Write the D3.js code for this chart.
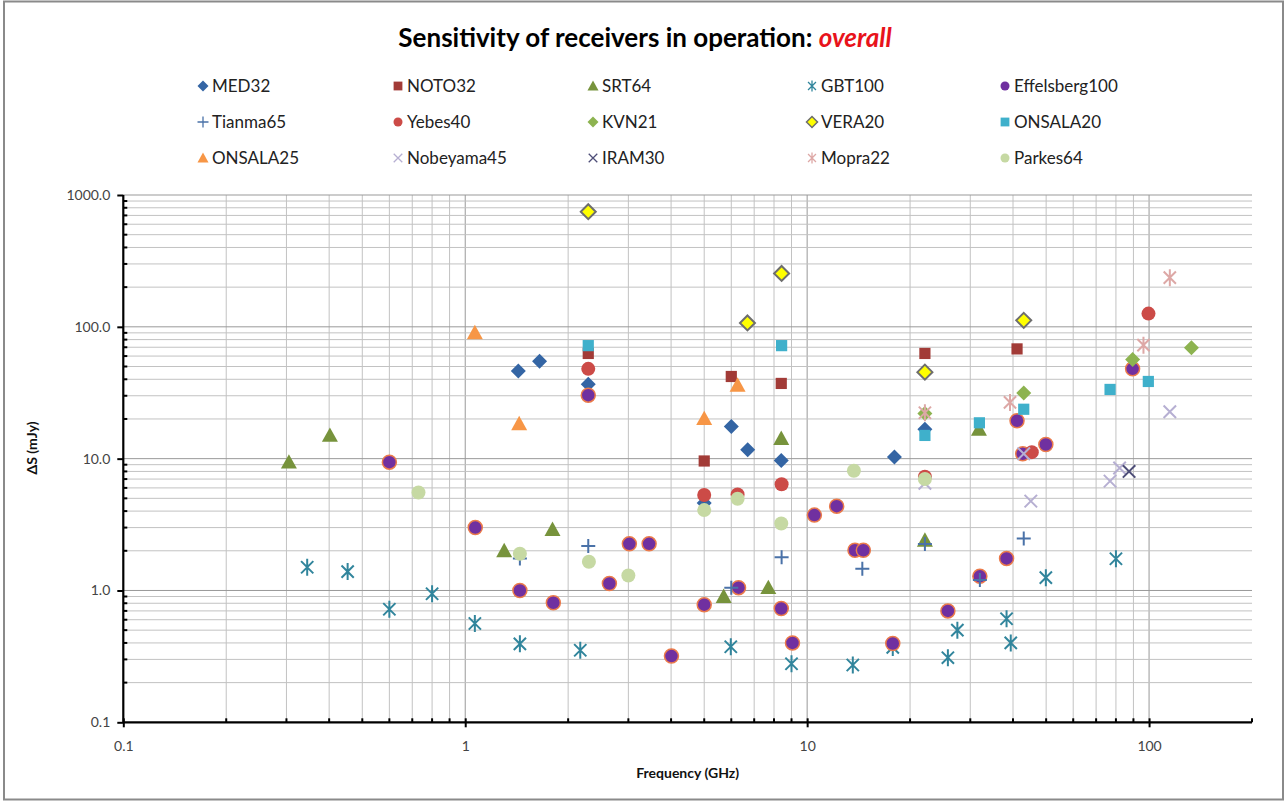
<!DOCTYPE html>
<html>
<head>
<meta charset="utf-8">
<script src="https://cdn.jsdelivr.net/npm/d3@7"></script>
<style>
  html, body { margin: 0; padding: 0; background: #fff; }
  svg { display: block; }
  text { font-family: Lato, "Open Sans", "Liberation Sans", sans-serif; }
</style>
</head>
<body>
<svg id="chart" width="1285" height="802"></svg>
<script>
// ---------------- DATA ----------------
const seriesNames = ["MED32","NOTO32","SRT64","GBT100","Effelsberg100","Tianma65","Yebes40","KVN21","VERA20","ONSALA20","ONSALA25","Nobeyama45","IRAM30","Mopra22","Parkes64"];

const MED32 = [[1.43,46.3],[1.65,54.9],[2.29,36.7],[5.0,4.6],[6.0,17.5],[6.7,11.7],[8.4,9.7],[18.0,10.3],[22.1,16.7]];
const NOTO32 = [[2.29,62.8],[5.0,9.6],[6.0,42],[8.4,37.2],[22.1,62.8],[41.1,68]];
const SRT64 = [[0.305,9.4],[0.402,15.0],[1.3,2.0],[1.8,2.9],[5.7,0.9],[7.7,1.05],[8.4,14.2],[22.1,2.4],[31.8,16.7]];
const GBT100 = [[0.345,1.5],[0.453,1.39],[0.6,0.72],[0.8,0.944],[1.067,0.562],[1.445,0.394],[2.17,0.352],[5.98,0.374],[9.0,0.278],[13.6,0.272],[17.8,0.37],[25.8,0.309],[27.5,0.5],[38.3,0.61],[39.4,0.40],[49.9,1.25],[80,1.74]];
const Effelsberg100 = [[0.6,9.4],[1.07,3.0],[1.445,1.0],[1.81,0.807],[2.29,30.3],[2.64,1.13],[3.02,2.26],[3.45,2.26],[4.01,0.318],[5.0,0.78],[6.3,1.05],[8.4,0.73],[9.06,0.4],[10.5,3.73],[12.2,4.36],[13.8,2.02],[14.6,2.02],[17.8,0.396],[25.8,0.70],[32,1.28],[38.3,1.75],[41.1,19.4],[42.7,10.9],[49.9,12.8],[89.5,48]];
const Tianma65 = [[1.445,1.75],[2.29,2.17],[6.0,1.05],[8.42,1.79],[14.5,1.46],[22.1,2.25],[32,1.2],[43,2.48]];
const Yebes40 = [[2.29,48],[5.0,5.3],[6.26,5.35],[8.42,6.4],[22.1,7.3],[45.4,11.2],[99.6,126]];
const KVN21 = [[22.1,22],[43,31.5],[89.5,56.6],[133,69.4]];
const VERA20 = [[2.29,747],[6.69,107],[8.42,254],[22.1,45.3],[43,112]];
const ONSALA20 = [[2.29,72],[8.42,72],[22.1,15.0],[31.9,18.7],[43,23.7],[76.9,33.5],[99.5,38.5]];
const ONSALA25 = [[1.067,90],[1.438,18.4],[5.0,20.1],[6.26,36]];
const Nobeyama45 = [[22.1,6.5],[43,10.9],[45.1,4.76],[76.9,6.75],[82,8.5],[115,22.7]];
const IRAM30 = [[87.4,8.0]];
const Mopra22 = [[22.1,22.3],[39.2,26.7],[96.3,72.6],[115,236]];
const Parkes64 = [[0.73,5.54],[1.445,1.9],[2.3,1.65],[3.0,1.3],[5.0,4.07],[6.26,4.96],[8.4,3.22],[13.7,8.1],[22.1,7.0]];

const seriesData = [MED32,NOTO32,SRT64,GBT100,Effelsberg100,Tianma65,Yebes40,KVN21,VERA20,ONSALA20,ONSALA25,Nobeyama45,IRAM30,Mopra22,Parkes64];

const xTickValues = [0.1, 1, 10, 100];
const yTickValues = [0.1, 1, 10, 100, 1000];

// ---------------- STYLE ----------------
const styles = {
  MED32:        {shape:"diamond", fill:"#3465A4", stroke:"none"},
  NOTO32:       {shape:"square",  fill:"#A23B37", stroke:"none"},
  SRT64:        {shape:"triangle",fill:"#77933C", stroke:"none"},
  GBT100:       {shape:"star",    fill:"none",    stroke:"#31859C"},
  Effelsberg100:{shape:"circle",  fill:"#7030A0", stroke:"#EB7B4B"},
  Tianma65:     {shape:"plus",    fill:"none",    stroke:"#4A72A8"},
  Yebes40:      {shape:"circle",  fill:"#CC4B47", stroke:"none"},
  KVN21:        {shape:"diamond", fill:"#8DB350", stroke:"none"},
  VERA20:       {shape:"diamond", fill:"#FFFF00", stroke:"#6E6E6E"},
  ONSALA20:     {shape:"square",  fill:"#3FB0CB", stroke:"none"},
  ONSALA25:     {shape:"triangle",fill:"#F79646", stroke:"none"},
  Nobeyama45:   {shape:"x",       fill:"none",    stroke:"#B6AFD2"},
  IRAM30:       {shape:"x",       fill:"none",    stroke:"#4E4E78"},
  Mopra22:      {shape:"star",    fill:"none",    stroke:"#DDA8A6"},
  Parkes64:     {shape:"circle",  fill:"#C6D9A3", stroke:"none"}
};

function markerPath(shape, s) {
  switch (shape) {
    case "diamond": return `M0,${-s}L${s},0L0,${s}L${-s},0Z`;
    case "square": { const h = s*0.8; return `M${-h},${-h}H${h}V${h}H${-h}Z`; }
    case "triangle": return `M0,${-s}L${s},${s*0.8}L${-s},${s*0.8}Z`;
    case "plus": return `M${-s},0H${s}M0,${-s}V${s}`;
    case "x": { const h = s*0.78; return `M${-h},${-h}L${h},${h}M${-h},${h}L${h},${-h}`; }
    case "star": { const h = s*0.72; return `M${-h},${-h}L${h},${h}M${-h},${h}L${h},${-h}M0,${-s}V${s}`; }
    default: return "";
  }
}
const markerSize = {diamond: 7.5, square: 7, triangle: 8, plus: 7, x: 8, star: 8.5, circle: 7};

// ---------------- LAYOUT ----------------
const svg = d3.select("#chart");
const W = 1285, H = 802;
const plot = {left: 123.3, right: 1252, top: 195, bottom: 722.3};

svg.append("rect").attr("x",0).attr("y",0).attr("width",W).attr("height",H).attr("fill","#fff");
svg.append("rect").attr("x",4).attr("y",1.5).attr("width",1279).attr("height",798)
  .attr("fill","none").attr("stroke","#8a8a8a").attr("stroke-width",2);

const x = d3.scaleLog().domain([0.1, 200]).range([plot.left, plot.right]);
const y = d3.scaleLog().domain([0.1, 1000]).range([plot.bottom, plot.top]);

const xMinor = [];
for (let d = 0.1; d < 200; d *= 10) for (let k = 1; k <= 9; k++) { const v = +(d*k).toPrecision(3); if (v <= 200) xMinor.push(v); }
const yMinor = [];
for (let d = 0.1; d < 1000; d *= 10) for (let k = 1; k <= 9; k++) yMinor.push(+(d*k).toPrecision(3));
yMinor.push(1000);

const isMajor = v => Math.abs(Math.log10(v) - Math.round(Math.log10(v))) < 1e-6;

// grid
const grid = svg.append("g");
grid.selectAll("line.gx").data(xMinor.filter(v => v > 0.1 && v < 200)).join("line")
  .attr("x1", d => x(d)).attr("x2", d => x(d)).attr("y1", plot.top).attr("y2", plot.bottom)
  .attr("stroke", d => isMajor(d) ? "#999" : "#c2c2c2").attr("stroke-width", 1);
grid.selectAll("line.gy").data(yMinor.filter(v => v > 0.1)).join("line")
  .attr("x1", plot.left).attr("x2", plot.right).attr("y1", d => y(d)).attr("y2", d => y(d))
  .attr("stroke", d => isMajor(d) ? "#999" : "#c2c2c2").attr("stroke-width", 1);

// axes
const xAxis = d3.axisBottom(x).tickValues(xTickValues).tickFormat(d => d3.format("")(d)).tickSize(5).tickPadding(14);
const yAxis = d3.axisLeft(y).tickValues(yTickValues).tickFormat(d3.format(".1f")).tickSize(6).tickPadding(7);

const gx = svg.append("g").attr("transform", `translate(0,${plot.bottom})`).call(xAxis);
const gy = svg.append("g").attr("transform", `translate(${plot.left},0)`).call(yAxis);
[gx, gy].forEach(g => {
  g.select(".domain").attr("stroke", "#000").attr("stroke-width", 2.2);
  g.selectAll(".tick line").attr("stroke", "#000").attr("stroke-width", 2);
  g.selectAll(".tick text").attr("fill", "#444").style("font-size", "14px").style("font-family", "Lato, sans-serif");
});
gx.select(".domain").attr("d", `M${plot.left},0H${plot.right}`);
gy.select(".domain").attr("d", `M0,${plot.bottom}V${plot.top}`);
gx.selectAll(".tick line").attr("y1", -4).attr("y2", 5);

// minor ticks
svg.append("g").selectAll("line").data(xMinor.filter(v => !isMajor(v))).join("line")
  .attr("x1", d => x(d)).attr("x2", d => x(d)).attr("y1", plot.bottom - 4).attr("y2", plot.bottom)
  .attr("stroke", "#000").attr("stroke-width", 2);
svg.append("g").selectAll("line").data(yMinor.filter(v => !isMajor(v))).join("line")
  .attr("x1", plot.left).attr("x2", plot.left + 4).attr("y1", d => y(d)).attr("y2", d => y(d))
  .attr("stroke", "#000").attr("stroke-width", 2);

// axis titles
svg.append("text").attr("x", (plot.left + plot.right) / 2).attr("y", 778)
  .attr("text-anchor", "middle").style("font-size", "14px").style("font-weight", "bold").attr("fill", "#111")
  .text("Frequency (GHz)");
svg.append("text").attr("transform", `translate(37,448) rotate(-90)`)
  .attr("text-anchor", "middle").style("font-size", "14px").style("font-weight", "bold").attr("fill", "#111")
  .text("ΔS (mJy)");

// title
const title = svg.append("text").attr("x", 645).attr("y", 47).attr("text-anchor", "middle")
  .style("font-size", "26px").style("font-weight", "bold").attr("fill", "#000");
title.append("tspan").text("Sensitivity of receivers in operation: ");
title.append("tspan").attr("fill", "#E8131B").style("font-style", "italic").text("overall");

// points
seriesNames.forEach((name, i) => {
  const st = styles[name];
  const g = svg.append("g").attr("class", "series-" + name);
  const s = markerSize[st.shape];
  g.selectAll("path").data(seriesData[i]).join("path")
    .attr("transform", d => `translate(${x(d[0])},${y(d[1])})`)
    .attr("d", st.shape === "circle" ? d3.symbol(d3.symbolCircle, Math.PI * s * s)() : markerPath(st.shape, s))
    .attr("fill", st.fill)
    .attr("stroke", st.stroke)
    .attr("stroke-width", st.shape === "plus" || st.shape === "x" || st.shape === "star" ? 2 : (name === "VERA20" ? 2 : 1.5));
});

// legend
const legX = [203, 398, 593, 812, 1005];
const legY = [86, 122, 158];
seriesNames.forEach((name, i) => {
  const st = styles[name];
  const cx = legX[i % 5], cy = legY[Math.floor(i / 5)];
  const g = svg.append("g").attr("transform", `translate(${cx},${cy})`);
  const s = 5.5;
  g.append("path")
    .attr("d", st.shape === "circle" ? d3.symbol(d3.symbolCircle, Math.PI * 4.5 * 4.5)() : markerPath(st.shape, s))
    .attr("fill", st.fill).attr("stroke", st.stroke)
    .attr("stroke-width", st.shape === "plus" || st.shape === "x" || st.shape === "star" ? 1.3 : (name === "VERA20" ? 1.5 : (name === "Effelsberg100" ? 0 : 1)));
  g.append("text").attr("x", 9).attr("y", 6).style("font-size", "17px").attr("fill", "#222").text(name);
});
</script>
</body>
</html>
